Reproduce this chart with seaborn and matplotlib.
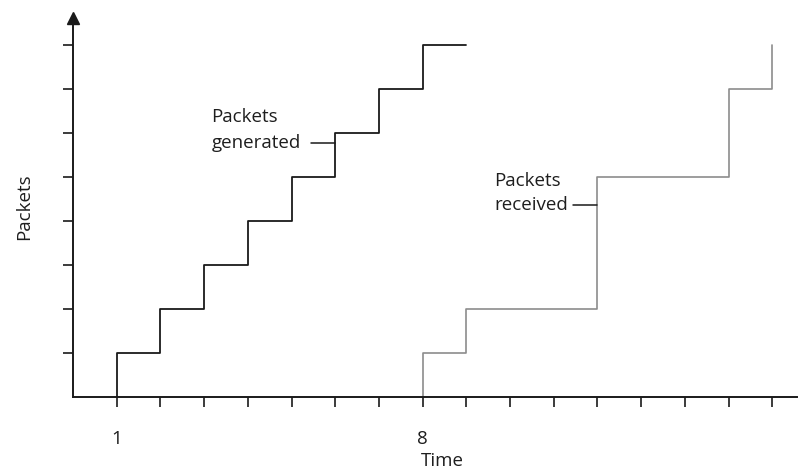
import matplotlib
matplotlib.use("Agg")
import matplotlib.pyplot as plt
import seaborn as sns
import pandas as pd

# Data
gen_time = [1, 1, 2, 3, 4, 5, 6, 7, 8, 9]
gen_packets = [0, 1, 2, 3, 4, 5, 6, 7, 8, 8]
recv_time = [8, 8, 9, 12, 15, 16]
recv_packets = [0, 1, 2, 5, 7, 8]
x_ticks = list(range(1, 17))
x_tick_labels = ["1" if t == 1 else ("8" if t == 8 else "") for t in x_ticks]
y_ticks = list(range(1, 9))

sns.set_theme(style="white")
plt.rcParams['font.family'] = ['Open Sans', 'DejaVu Sans']

FS = 13.5
TXT = "#1e1e1e"
FW = 500

fig = plt.figure(figsize=(7.99, 4.74), dpi=100)
ax = fig.add_axes([73/799, 1 - 397/474, (797-73)/799, (397-18)/474])

gen_df = pd.DataFrame({"Time": gen_time, "Packets": gen_packets})
recv_df = pd.DataFrame({"Time": recv_time, "Packets": recv_packets})

sns.lineplot(data=gen_df, x="Time", y="Packets", estimator=None, sort=False,
             drawstyle="steps-post", color="#1a1a1a", linewidth=1.3, ax=ax)
sns.lineplot(data=recv_df, x="Time", y="Packets", estimator=None, sort=False,
             drawstyle="steps-post", color="#8c8c8c", linewidth=1.2, ax=ax)

ax.set_xlim(0, (797-73)/43.7)
ax.set_ylim(0, (397-18)/44)

for s in ["top", "right"]:
    ax.spines[s].set_visible(False)
for s in ["left", "bottom"]:
    ax.spines[s].set_color("#1a1a1a")
    ax.spines[s].set_linewidth(1.4)

ax.set_xticks(x_ticks)
ax.set_xticklabels(x_tick_labels, fontsize=FS, color=TXT, fontweight=FW)
ax.set_yticks(y_ticks)
ax.set_yticklabels([])
ax.tick_params(axis="x", direction="out", length=7.5, width=1.2, color="#1a1a1a", pad=16, bottom=True)
ax.tick_params(axis="y", direction="out", length=7.5, width=1.2, color="#1a1a1a", left=True)

ax.set_xlabel("Time", fontsize=FS, color=TXT, fontweight=FW)
ax.set_ylabel("Packets", fontsize=FS, color=TXT, fontweight=FW)
ax.xaxis.set_label_coords(0.51, -0.145)
ax.yaxis.set_label_coords(-0.055, 0.503)

# axis arrow
ax.plot([0], [1], marker="^", markersize=9, color="#1a1a1a", transform=ax.transAxes, clip_on=False)

# annotations
ax.text(3.17, 6.36, "Packets", fontsize=FS, color=TXT, va="center", ha="left", fontweight=FW)
ax.text(3.17, 5.77, "generated", fontsize=FS, color=TXT, va="center", ha="left", fontweight=FW)
ax.plot([5.45, 6.0], [5.77, 5.77], color="#1a1a1a", linewidth=1.1)

ax.text(9.64, 4.92, "Packets", fontsize=FS, color=TXT, va="center", ha="left", fontweight=FW)
ax.text(9.64, 4.36, "received", fontsize=FS, color=TXT, va="center", ha="left", fontweight=FW)
ax.plot([11.45, 12.0], [4.36, 4.36], color="#1a1a1a", linewidth=1.1)

fig.savefig("out.png", dpi=100)
